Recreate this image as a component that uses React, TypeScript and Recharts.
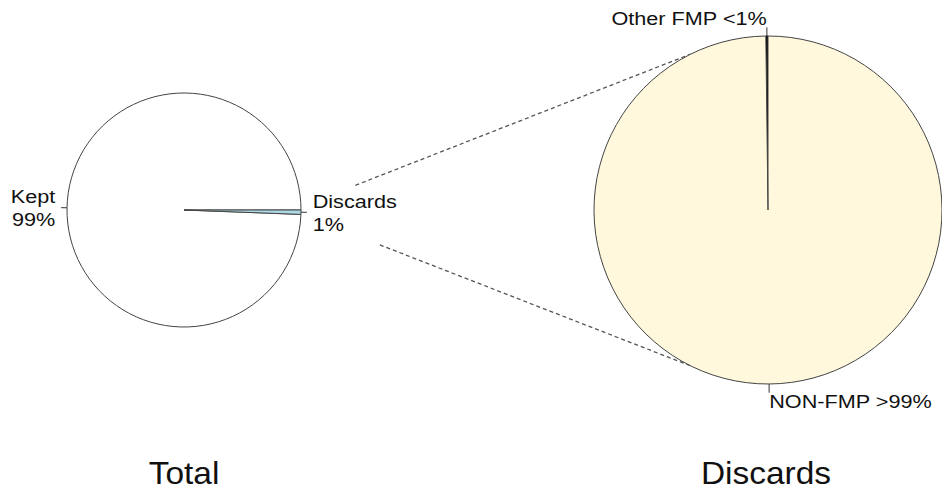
import React from 'react';
import { PieChart, Pie, Cell } from 'recharts';

// slice values (percent of weight)
const totalNames = ['Kept', 'Discards'];
const totalValues = [99.4, 0.6];
const totalLabels = [['Kept', '99%'], ['Discards', '1%']];
const totalColors = ['#FFFFFF', '#ADD8E6'];

const discardNames = ['Other FMP', 'NON-FMP'];
const discardValues = [0.2, 99.8];
const discardLabels = [['Other FMP <1%'], ['NON-FMP >99%']];
const discardColors = ['#000000', '#FFF8DC'];

const titles = ['Total', 'Discards'];

const W = 942;
const H = 491;
const LEFT = { cx: 184, cy: 210, r: 117 };
const RIGHT = { cx: 768, cy: 210, r: 174 };
const FONT = '"Liberation Sans", Arial, sans-serif';
const RADIAN = Math.PI / 180;

const totalData = totalNames.map((name, i) => ({ name, value: totalValues[i] }));
const discardData = discardNames.map((name, i) => ({ name, value: discardValues[i] }));

// R-style pie label: short tick from the rim, text at 1.1 r, anchored away from the centre
const makeLabel = (labels: string[][]) => (props: any) => {
    const { cx, cy, midAngle, outerRadius, index } = props;
    const cos = Math.cos(-midAngle * RADIAN);
    const sin = Math.sin(-midAngle * RADIAN);
    const x0 = cx + outerRadius * cos;
    const y0 = cy + outerRadius * sin;
    const x1 = cx + outerRadius * 1.05 * cos;
    const y1 = cy + outerRadius * 1.05 * sin;
    const tx = cx + outerRadius * 1.1 * cos;
    const ty = cy + outerRadius * 1.1 * sin;
    const lines = labels[index];
    const lh = 23;
    const first = ty - ((lines.length - 1) * lh) / 2 + 6.6;
    return (
        <g>
            <line x1={x0} y1={y0} x2={x1} y2={y1} stroke="#333" strokeWidth={1} />
            <g transform={`translate(${tx},${first}) scale(1.17,1)`}>
                {lines.map((s, i) => (
                    <text
                        key={i}
                        x={0}
                        y={i * lh}
                        textAnchor={cos < 0 ? 'end' : 'start'}
                        fontSize={18.5}
                        fontFamily={FONT}
                        fill="#111"
                    >
                        {s}
                    </text>
                ))}
            </g>
        </g>
    );
};

// zoom connectors: from just right of the small pie to the big pie's rim
const connectors = [
    { from: [1.48, 8.2], to: 116.3 },
    { from: [1.7, -10.1], to: 243.7 },
];

export default function App() {
    return (
        <div style={{ position: 'absolute', left: 0, top: 0, width: W, height: H, background: '#fff' }}>
            <PieChart width={W} height={H} margin={{ top: 0, right: 0, bottom: 0, left: 0 }}>
                {connectors.map((c, i) => (
                    <line
                        key={`conn-${i}`}
                        x1={LEFT.cx + LEFT.r * c.from[0] * Math.cos(c.from[1] * RADIAN)}
                        y1={LEFT.cy - LEFT.r * c.from[0] * Math.sin(c.from[1] * RADIAN)}
                        x2={RIGHT.cx + RIGHT.r * Math.cos(c.to * RADIAN)}
                        y2={RIGHT.cy - RIGHT.r * Math.sin(c.to * RADIAN)}
                        stroke="#555"
                        strokeWidth={1.3}
                        strokeDasharray="4 3"
                    />
                ))}
                <Pie
                    data={totalData}
                    dataKey="value"
                    cx={LEFT.cx}
                    cy={LEFT.cy}
                    outerRadius={LEFT.r}
                    startAngle={0}
                    endAngle={360}
                    stroke="#444"
                    strokeWidth={1}
                    label={makeLabel(totalLabels)}
                    labelLine={false}
                    isAnimationActive={false}
                >
                    {totalData.map((_, i) => (
                        <Cell key={`t-${i}`} fill={totalColors[i]} />
                    ))}
                </Pie>
                <Pie
                    data={discardData}
                    dataKey="value"
                    cx={RIGHT.cx}
                    cy={RIGHT.cy}
                    outerRadius={RIGHT.r}
                    startAngle={90}
                    endAngle={450}
                    stroke="#444"
                    strokeWidth={1}
                    label={makeLabel(discardLabels)}
                    labelLine={false}
                    isAnimationActive={false}
                >
                    {discardData.map((_, i) => (
                        <Cell key={`d-${i}`} fill={discardColors[i]} stroke={i === 0 ? '#000' : '#444'} />
                    ))}
                </Pie>
                {titles.map((t, i) => (
                    <g key={`title-${i}`} transform={`translate(${i === 0 ? LEFT.cx : RIGHT.cx - 2},484) scale(1.08,1)`}>
                        <text x={0} y={0} textAnchor="middle" fontSize={31} fontFamily={FONT} fill="#111">
                            {t}
                        </text>
                    </g>
                ))}
            </PieChart>
        </div>
    );
}
